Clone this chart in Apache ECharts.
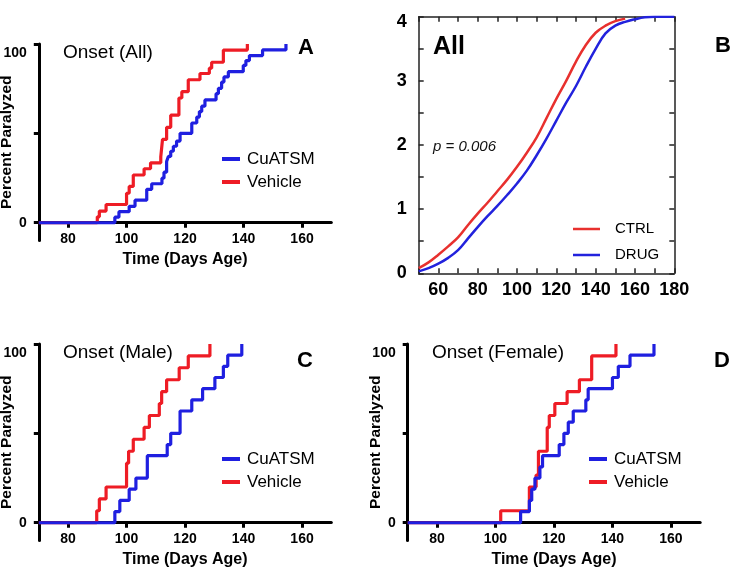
<!DOCTYPE html>
<html><head><meta charset="utf-8">
<script src="https://cdn.jsdelivr.net/npm/echarts@6/dist/echarts.min.js"></script>
<style>html,body{margin:0;padding:0;background:#fff}#c{width:731px;height:570px}</style>
</head><body><div id="c"></div>
<script>
// ---------- data ----------
// Panel A: Onset (All)
const allVehicleDays = [70, 90, 90.7, 93, 100, 100.9, 102.3, 106, 108.2, 111.7, 112.3, 113.7, 115.1, 117.9, 118.9, 121.1, 125.1, 128.3, 129.1, 133.1, 141.3];
const allVehiclePct  = [0, 3.3, 6.5, 10.2, 16.5, 20.3, 26.7, 30.2, 33.5, 36.8, 46.6, 53.4, 60.2, 69.8, 73.3, 80, 83.5, 86.5, 89.8, 96.6, 100];
const allDrugDays = [70, 96, 97.4, 100.9, 102.9, 106.9, 108.6, 112.1, 112.8, 113.7, 114.3, 115.1, 116, 117.1, 118.3, 122.3, 124, 124.9, 125.7, 126.8, 130.6, 131.4, 132.5, 133.3, 134.8, 139.9, 140.8, 142, 146.5, 154.5];
const allDrugPct  = [0, 3.1, 6.2, 9.2, 12.6, 18.7, 21.8, 24.9, 28.3, 34.2, 37.1, 40, 42.8, 45.7, 50, 55.8, 59.1, 62.2, 65.2, 68.7, 72.2, 75.2, 78.7, 81.6, 84.5, 88, 90.7, 93.5, 96.7, 100];
// Panel C: Onset (Male)
const maleVehicleDays = [70, 89.8, 90.7, 93, 100, 100.7, 102.3, 106, 107.8, 111.2, 112, 113.7, 118, 121.1, 128.5];
const maleVehiclePct  = [0, 6.7, 13.3, 20, 33.3, 40, 46.7, 53.3, 60, 66.7, 73.3, 80, 86.7, 93.3, 100];
const maleDrugDays = [70, 96, 97.7, 100.9, 103.2, 107.1, 113.9, 115.1, 118.3, 122.3, 126, 130.2, 133.1, 134.6, 139.4];
const maleDrugPct  = [0, 6.25, 12.5, 18.75, 25, 37.5, 43.75, 50, 62.5, 68.75, 75, 81.25, 87.5, 93.75, 100];
// Panel D: Onset (Female)
const femVehicleDays = [70, 101.8, 111.6, 113.9, 114.7, 117.7, 118.4, 120.3, 124.5, 128.7, 132.9, 141.2];
const femVehiclePct  = [0, 6.7, 20, 26.7, 40, 53.3, 60, 66.7, 73.3, 80, 93.3, 100];
const femDrugDays = [70, 108.6, 111.6, 112.4, 113.5, 115.2, 116.1, 121.8, 123.4, 124.9, 126.6, 130.9, 131.7, 140, 142, 146, 154.2];
const femDrugPct  = [0, 6.25, 12.5, 18.75, 25, 31.25, 37.5, 43.75, 50, 56.25, 62.5, 68.75, 75, 81.25, 87.5, 93.75, 100];
// Panel B: All (smooth cumulative curves)
const bCtrlDays = [50,55,60,65,70,75,80,85,90,95,100,105,110,115,120,125,130,135,140,145,150,155];
const bCtrl     = [0.08,0.17,0.29,0.42,0.56,0.75,0.93,1.10,1.28,1.46,1.66,1.88,2.12,2.42,2.72,3.00,3.30,3.56,3.75,3.86,3.93,3.97];
const bDrugDays = [50,55,60,65,70,75,80,85,90,95,100,105,110,115,120,125,130,135,140,145,150,155,160,165,170,175,180];
const bDrug     = [0.03,0.08,0.15,0.24,0.36,0.54,0.72,0.89,1.05,1.22,1.40,1.60,1.84,2.10,2.38,2.66,2.92,3.22,3.50,3.74,3.86,3.92,3.96,3.99,4.0,4.0,4.0];
// ticks
const stepXTicks = [80, 100, 120, 140, 160];
const stepYTicks = [0, 50, 100];
const stepYLabels = [0, 100];
const bXLabels = [60, 80, 100, 120, 140, 160, 180];
const bYLabels = [0, 1, 2, 3, 4];

// ---------- chart ----------
const FF = '"Liberation Sans", Arial, Helvetica, sans-serif';
const RED = '#ee1c25', BLUE = '#1f1fe0';
const zip = (a, b) => a.map((v, i) => [v, b[i]]);
const STEP_GRID_H = 196.6;
const X_OFFSET = -STEP_GRID_H * 10 / 110; // x axis sits at y = 0, y axis runs down to -10

function stepX(gi) {
  return {
    gridIndex: gi, type: 'value', min: 70, max: 170, position: 'bottom', offset: X_OFFSET,
    axisLine: { onZero: false, lineStyle: { color: '#000', width: 3 } },
    axisTick: { show: true, customValues: stepXTicks, length: 5, lineStyle: { color: '#000', width: 3 } },
    axisLabel: { customValues: stepXTicks, fontSize: 14, fontWeight: 'bold', color: '#000', margin: 9, fontFamily: FF },
    splitLine: { show: false },
    name: 'Time (Days Age)', nameLocation: 'middle', nameGap: 29, nameMoveOverlap: false,
    nameTextStyle: { fontSize: 16, fontWeight: 'bold', color: '#000', fontFamily: FF }
  };
}
function stepY(gi) {
  return {
    gridIndex: gi, type: 'value', min: -10, max: 100,
    axisLine: { show: true, onZero: false, lineStyle: { color: '#000', width: 3 } },
    axisTick: { show: true, customValues: stepYTicks, length: 5, lineStyle: { color: '#000', width: 3 } },
    axisLabel: {
      customValues: stepYLabels, margin: 12, fontSize: 14, fontWeight: 'bold', color: '#000', fontFamily: FF,
      formatter: v => (v === 100 ? '{t|100}' : String(v)),
      rich: { t: { padding: [18, 0, 0, 0], fontSize: 14, fontWeight: 'bold', color: '#000', fontFamily: FF } }
    },
    splitLine: { show: false },
    name: 'Percent Paralyzed', nameLocation: 'middle', nameGap: 24, nameMoveOverlap: false,
    nameTextStyle: { fontSize: 15.5, fontWeight: 'bold', color: '#000', fontFamily: FF }
  };
}
function stepSeries(name, days, pct, color, ai) {
  return { name, type: 'line', step: 'end', data: zip(days, pct), xAxisIndex: ai, yAxisIndex: ai,
    showSymbol: false, symbol: 'none', lineStyle: { color, width: 3.2 }, itemStyle: { color }, animation: false };
}
function stepLegend(left, top) {
  return { left, top, padding: 0, orient: 'vertical', data: ['CuATSM', 'Vehicle'], icon: 'rect', itemWidth: 18, itemHeight: 4, itemGap: 3,
    selectedMode: false, textStyle: { fontSize: 17, color: '#000', fontFamily: FF, lineHeight: 20, padding: [0, 0, 0, 2] } };
}
const bAxisLine = { show: true, onZero: false, lineStyle: { color: '#222', width: 1.5 } };
const bTick = { show: true, inside: true, length: 5, lineStyle: { color: '#222', width: 1.5 } };

const option = {
  backgroundColor: '#fff',
  animation: false,
  grid: [
    { left: 38.8, top: 44, width: 292.5, height: STEP_GRID_H, outerBoundsMode: 'none', containLabel: false },
    { left: 38.8, top: 344, width: 292.5, height: STEP_GRID_H, outerBoundsMode: 'none', containLabel: false },
    { left: 407.7, top: 344, width: 292.5, height: STEP_GRID_H, outerBoundsMode: 'none', containLabel: false },
    { left: 418.7, top: 16.7, width: 255.6, height: 256.6, outerBoundsMode: 'none', containLabel: false }
  ],
  xAxis: [
    stepX(0), stepX(1), stepX(2),
    { gridIndex: 3, type: 'value', min: 50, max: 180, interval: 10, axisLine: bAxisLine, axisTick: bTick,
      axisLabel: { customValues: bXLabels, fontSize: 18, fontWeight: 'bold', color: '#000', margin: 8, fontFamily: FF },
      splitLine: { show: false } },
    { gridIndex: 3, type: 'value', position: 'top', min: 50, max: 180, interval: 10, axisLine: bAxisLine, axisTick: bTick,
      axisLabel: { show: false }, splitLine: { show: false } }
  ],
  yAxis: [
    stepY(0), stepY(1), stepY(2),
    { gridIndex: 3, type: 'value', min: 0, max: 4, interval: 0.5, axisLine: bAxisLine, axisTick: bTick,
      axisLabel: { customValues: bYLabels, fontSize: 18, fontWeight: 'bold', color: '#000', margin: 12, fontFamily: FF,
        formatter: v => (v === 4 ? '{t|4}' : String(v)),
        rich: { t: { padding: [10, 0, 0, 0], fontSize: 18, fontWeight: 'bold', color: '#000', fontFamily: FF } } },
      splitLine: { show: false } },
    { gridIndex: 3, type: 'value', position: 'right', min: 0, max: 4, interval: 0.5, axisLine: bAxisLine, axisTick: bTick,
      axisLabel: { show: false }, splitLine: { show: false } }
  ],
  legend: [
    stepLegend(222, 149), stepLegend(222, 449), stepLegend(589, 449),
    { left: 573, top: 219, padding: 0, orient: 'vertical', data: ['CTRL', 'DRUG'], icon: 'rect', itemWidth: 27, itemHeight: 2.5, itemGap: 6,
      selectedMode: false, textStyle: { fontSize: 15, color: '#000', fontFamily: FF, lineHeight: 20, padding: [0, 0, 0, 10] } }
  ],
  series: [
    stepSeries('Vehicle', allVehicleDays, allVehiclePct, RED, 0),
    stepSeries('CuATSM', allDrugDays, allDrugPct, BLUE, 0),
    stepSeries('Vehicle', maleVehicleDays, maleVehiclePct, RED, 1),
    stepSeries('CuATSM', maleDrugDays, maleDrugPct, BLUE, 1),
    stepSeries('Vehicle', femVehicleDays, femVehiclePct, RED, 2),
    stepSeries('CuATSM', femDrugDays, femDrugPct, BLUE, 2),
    { name: 'CTRL', type: 'line', smooth: 0.4, data: zip(bCtrlDays, bCtrl), xAxisIndex: 3, yAxisIndex: 3, showSymbol: false, symbol: 'none',
      lineStyle: { color: '#e8302e', width: 2.5 }, itemStyle: { color: '#e8302e' } },
    { name: 'DRUG', type: 'line', smooth: 0.4, data: zip(bDrugDays, bDrug), xAxisIndex: 3, yAxisIndex: 3, showSymbol: false, symbol: 'none',
      lineStyle: { color: '#2222dd', width: 2.5 }, itemStyle: { color: '#2222dd' } }
  ],
  graphic: [
    { type: 'text', style: { text: 'Onset (All)', x: 63, y: 53, align: 'left', verticalAlign: 'middle', fontSize: 19, fontFamily: FF, fill: '#000' } },
    { type: 'text', style: { text: 'Onset (Male)', x: 63, y: 353, align: 'left', verticalAlign: 'middle', fontSize: 19, fontFamily: FF, fill: '#000' } },
    { type: 'text', style: { text: 'Onset (Female)', x: 432, y: 353, align: 'left', verticalAlign: 'middle', fontSize: 19, fontFamily: FF, fill: '#000' } },
    { type: 'text', style: { text: 'A', x: 306, y: 48, align: 'center', verticalAlign: 'middle', fontSize: 22, fontWeight: 'bold', fontFamily: FF, fill: '#000' } },
    { type: 'text', style: { text: 'B', x: 723, y: 46, align: 'center', verticalAlign: 'middle', fontSize: 22, fontWeight: 'bold', fontFamily: FF, fill: '#000' } },
    { type: 'text', style: { text: 'C', x: 305, y: 361, align: 'center', verticalAlign: 'middle', fontSize: 22, fontWeight: 'bold', fontFamily: FF, fill: '#000' } },
    { type: 'text', style: { text: 'D', x: 722, y: 361, align: 'center', verticalAlign: 'middle', fontSize: 22, fontWeight: 'bold', fontFamily: FF, fill: '#000' } },
    { type: 'text', style: { text: 'All', x: 433, y: 47, align: 'left', verticalAlign: 'middle', fontSize: 25, fontWeight: 'bold', fontFamily: FF, fill: '#000' } },
    { type: 'text', style: { text: 'p = 0.006', x: 433, y: 147, align: 'left', verticalAlign: 'middle', fontSize: 15, fontStyle: 'italic', fontFamily: FF, fill: '#111' } }
  ]
};
const chart = echarts.init(document.getElementById('c'), null, { renderer: 'canvas' });
chart.setOption(option);
</script></body></html>
